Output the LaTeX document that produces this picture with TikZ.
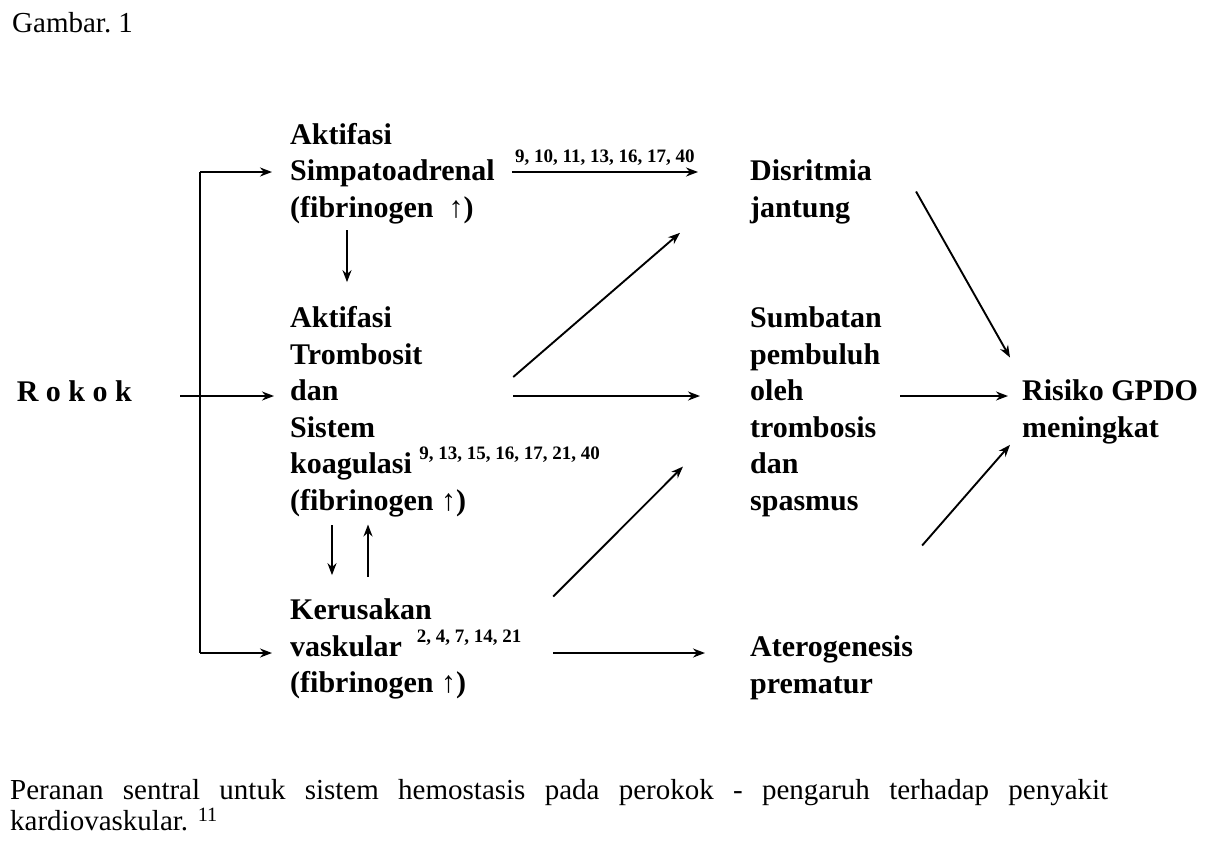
\documentclass[tikz,border=0pt]{standalone}
\usepackage{fontspec}
\setmainfont{Liberation Serif}
\usetikzlibrary{arrows.meta}

\tikzset{
  blok/.style={anchor=north west, inner sep=0pt, align=left,
    font=\fontsize{30}{36.5}\selectfont\bfseries},
  pijl/.style={-{Stealth[length=12pt,width=9pt]}, line width=1.9pt},
  rujukan/.style={font=\fontsize{19}{19}\selectfont\bfseries, inner sep=1pt},
}
\newcommand{\naik}{{\mdseries ↑}}
\newcommand{\rujuk}[1]{\raisebox{14pt}{\fontsize{19}{19}\selectfont #1}}

\begin{document}
\begin{tikzpicture}[x=1pt,y=-1pt]
\useasboundingbox (0,0) rectangle (1230,843);

\node[anchor=west, inner sep=0pt, font=\fontsize{29}{31}\selectfont] (judul) at (12,23) {Gambar.\ 1};

% kolom kiri
\node[anchor=east, inner sep=0pt, font=\fontsize{30}{36.5}\selectfont\bfseries] (rokok) at (132,391) {R o k o k};
\node[blok] (simpato) at (290,123) {Aktifasi\\Simpatoadrenal\\(fibrinogen \ \naik)};
\node[blok] (trombo) at (290,306.5) {Aktifasi\\Trombosit\\dan\\Sistem\\koagulasi\rlap{\ \rujuk{9, 13, 15, 16, 17, 21, 40}}\\(fibrinogen \naik)};
\node[blok] (kerusakan) at (290,598.5) {Kerusakan\\vaskular\rlap{\ \ \rujuk{2, 4, 7, 14, 21}}\\(fibrinogen \naik)};

% kolom tengah
\node[blok] (disritmia) at (750,159.5) {Disritmia\\jantung};
\node[blok] (sumbatan) at (750,306.5) {Sumbatan\\pembuluh\\oleh\\trombosis\\dan\\spasmus};
\node[blok] (ater) at (750,635.5) {Aterogenesis\\prematur};

% kolom kanan
\node[blok] (risiko) at (1022,379.5) {Risiko GPDO\\meningkat};

\node[blok, font=\fontsize{29}{31}\selectfont] (keterangan) at (10,779)
  {\makebox[1098pt][s]{Peranan sentral untuk sistem hemostasis pada perokok - pengaruh terhadap penyakit}\\kardiovaskular. \textsuperscript{11}};

\coordinate (rijA) at (0,172);
\coordinate (rijdan) at (0,396);
\coordinate (rijvask) at (0,653);
\coordinate (tulangA) at (200,172);
\coordinate (tulangB) at (200,653);

% rokok
\draw[pijl] ([xshift=48pt]rokok.east |- rijdan) -- ([xshift=-16pt]trombo.west |- rijdan);
\draw[line width=1.9pt] (tulangA) -- (tulangB);
\draw[pijl] (tulangA) -- ([xshift=-18pt]tulangA -| simpato.west);
\draw[pijl] (tulangB) -- ([xshift=-18pt]tulangB -| kerusakan.west);

% antar kolom kiri
\draw[pijl] ([shift={(57,6)}]simpato.south west) -- ++(0,52);
\draw[pijl] ([shift={(42,8)}]trombo.south west) -- ++(0,50);
\draw[pijl] ([shift={(78,-22)}]kerusakan.north west) -- ++(0,-52);

% ke kolom tengah
\draw[pijl] ([xshift=17pt]simpato.east |- rijA) -- node[rujukan, above=5pt] {9, 10, 11, 13, 16, 17, 40} ([xshift=-52pt]disritmia.west |- rijA);
\draw[pijl] ([shift={(47,-19)}]trombo.east |- rijdan) -- ([shift={(-70,9)}]disritmia.south west);
\draw[pijl] ([xshift=47pt]trombo.east |- rijdan) -- ([xshift=-50pt]sumbatan.west |- rijdan);
\draw[pijl] ([shift={(87,-2)}]kerusakan.north east) -- ([shift={(-67,55)}]sumbatan.west);
\draw[pijl] ([xshift=87pt]kerusakan.east |- rijvask) -- ([xshift=-45pt]ater.west |- rijvask);

% ke risiko
\draw[pijl] ([shift={(44,32)}]disritmia.north east) -- ([shift={(-12,-22)}]risiko.north west);
\draw[pijl] ([xshift=18pt]sumbatan.east |- rijdan) -- ([xshift=-14pt]risiko.west |- rijdan);
\draw[pijl] ([shift={(9,-90)}]ater.north east) -- ([shift={(-12,1)}]risiko.south west);
\end{tikzpicture}
\end{document}
